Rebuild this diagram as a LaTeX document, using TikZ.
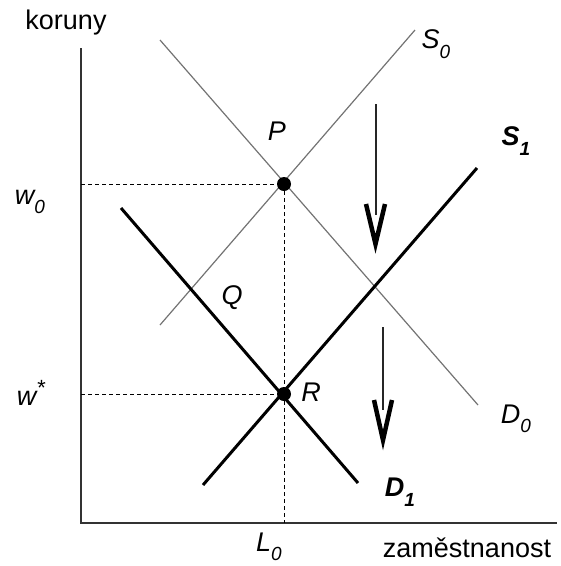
\documentclass[tikz,border=0pt]{standalone}
\usepackage{fontspec}
\setmainfont{Liberation Sans}
\newcommand{\lsub}[1]{\raisebox{-0.35em}{\fontsize{19}{21}\selectfont #1}}
\newcommand{\lsup}[1]{\raisebox{0.4em}{\fontsize{22}{24}\selectfont #1}}
\begin{document}
\begin{tikzpicture}[x=1pt,y=-1pt,
  lbl/.style={inner sep=0pt, font=\fontsize{27}{32}\selectfont},
  thinline/.style={draw=black!55, line width=1.2pt},
  thickline/.style={draw=black, line width=3pt},
  axisline/.style={draw=black!80, line width=2pt},
  dashline/.style={draw=black, line width=1pt, dash pattern=on 4pt off 3pt},
  dot/.style={circle, fill=black, inner sep=0pt, minimum size=14pt},
  vhead/.style={draw=black, line width=4.5pt, miter limit=20},
  shaft/.style={draw=black!85, line width=1.6pt}]
\useasboundingbox (0,0) rectangle (561,566);
% axes
\coordinate (ytop) at (81,48);
\coordinate (orig) at (81,523);
\coordinate (xend) at (557,523);
\draw[axisline] (ytop) -- (orig) -- (xend);
% curves
\coordinate (s0a) at (160,325); \coordinate (s0b) at (415,30);
\coordinate (d0a) at (160,40);  \coordinate (d0b) at (478,405);
\coordinate (s1a) at (203,485); \coordinate (s1b) at (477,168);
\coordinate (d1a) at (121,208); \coordinate (d1b) at (358,483);
\draw[thinline] (s0a) -- (s0b);
\draw[thinline] (d0a) -- (d0b);
\draw[thickline] (s1a) -- (s1b);
\draw[thickline] (d1a) -- (d1b);
% points
\node[dot] (P) at (284,184) {};
\node[dot] (R) at (284,394) {};
\coordinate (w0ax) at (81,184);
\coordinate (wsax) at (81,394);
\coordinate (L0ax) at (284,523);
\draw[dashline] (w0ax) -- (P.center);
\draw[dashline] (wsax) -- (R.center);
\draw[dashline] (P.center) -- (L0ax);
% arrows
\coordinate (a1t) at (376,104); \coordinate (a1b) at (376,215);
\draw[shaft] (a1t) -- (a1b);
\draw[vhead] (366,204) -- (375.5,244) -- (385,204);
\coordinate (a2t) at (383,327); \coordinate (a2b) at (383,410);
\draw[shaft] (a2t) -- (a2b);
\draw[vhead] (374,400) -- (383,440) -- (392,400);
% labels
\node[lbl] (koruny) at (66,23) {koruny};
\node[lbl] (zam) at (467,548) {zaměstnanost};
\node[lbl] (S0) at (436,44) {\textit{S\lsub{0}}};
\node[lbl] (S1) at (516,141) {\textbf{\textit{S\lsub{1}}}};
\node[lbl] (D0) at (516,419) {\textit{D\lsub{0}}};
\node[lbl] (D1) at (400,492) {\textbf{\textit{D\lsub{1}}}};
\node[lbl] (Pl) at (277,131) {\textit{P}};
\node[lbl] (Ql) at (232,298) {\textit{Q}};
\node[lbl] (Rl) at (311,392) {\textit{R}};
\node[lbl] (w0) at (30,202) {\textit{w\lsub{0}}};
\node[lbl] (ws) at (31,393) {\textit{w\lsup{*}}};
\node[lbl] (L0) at (269,547) {\textit{L\lsub{0}}};
\end{tikzpicture}
\end{document}
